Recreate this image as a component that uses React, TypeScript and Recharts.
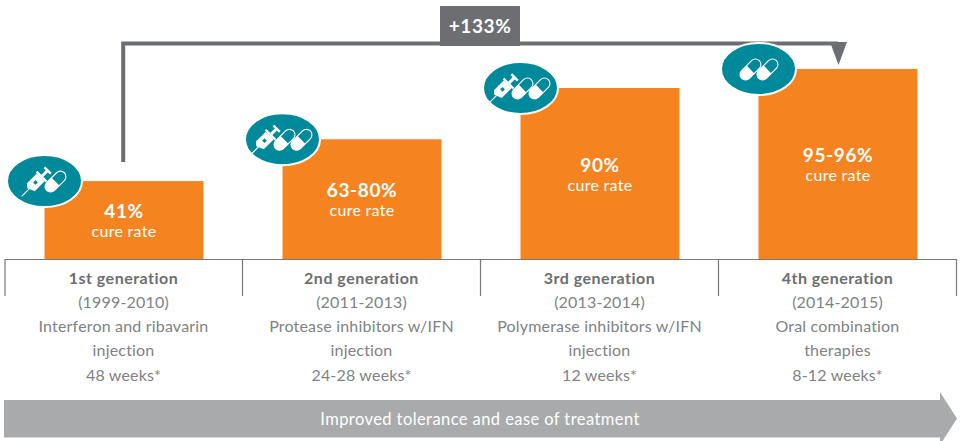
import React from 'react';
import { BarChart, Bar, XAxis, YAxis, LabelList } from 'recharts';

const generations = ['1st generation', '2nd generation', '3rd generation', '4th generation'];
const years = ['(1999-2010)', '(2011-2013)', '(2013-2014)', '(2014-2015)'];
const therapyLines = [
  ['Interferon and ribavarin', 'injection'],
  ['Protease inhibitors w/IFN', 'injection'],
  ['Polymerase inhibitors w/IFN', 'injection'],
  ['Oral combination', 'therapies'],
];
const durations = ['48 weeks*', '24-28 weeks*', '12 weeks*', '8-12 weeks*'];
// bar heights as drawn in the picture, the last one is taller than its label says
const barValues = [41, 63, 90, 100];
const cureLabels = ['41%', '63-80%', '90%', '95-96%'];
const icons = [
  ['syringe', 'pill'],
  ['syringe', 'pill', 'pill'],
  ['syringe', 'pill', 'pill'],
  ['pill', 'pill'],
];

const tableData = generations.map((name, i) => ({ name, value: barValues[i], label: cureLabels[i], idx: i }));

const FONT = 'Lato, sans-serif';
const ORANGE = '#f58420';
const TEAL = '#00889b';
const DARK = '#6d6e71';
const TEXT = '#808285';
const GREY = '#a9aaac';

function Pill({ x, y }: { x: number; y: number }) {
  return (
    <g transform={`translate(${x} ${y}) rotate(-45)`}>
      <rect x={-12.5} y={-5.5} width={25} height={11} rx={5.5} fill={TEAL} stroke="#fff" strokeWidth={1.1} />
      <path d="M0 -5.5 H-7 A5.5 5.5 0 0 0 -7 5.5 H0 Z" fill="#fff" />
    </g>
  );
}

function Syringe({ x, y }: { x: number; y: number }) {
  return (
    <g transform={`translate(${x} ${y}) rotate(-45)`} fill="#fff">
      <rect x={-21} y={-0.6} width={11} height={1.2} />
      <path d="M-11 -2 L-8 -5.5 H6 V5.5 H-8 Z" />
      <rect x={6} y={-7} width={2.2} height={14} />
      <rect x={8} y={-1.5} width={7} height={3} />
      <rect x={14.5} y={-4.5} width={2.4} height={9} />
      <rect x={-3} y={-1.8} width={3.4} height={3.4} fill={TEAL} />
    </g>
  );
}

// bar plus the badge sitting on its top left corner
function BarWithBadge(props: any) {
  const { x, y, width, height, index } = props;
  const kinds = icons[index];
  const offsets = kinds.length === 3 ? [-17, 2, 19] : index === 0 ? [-8, 11] : [-8, 9];
  return (
    <g>
      <rect x={x} y={y} width={width} height={height} fill={ORANGE} />
      <ellipse cx={x} cy={y} rx={37.5} ry={26} fill={TEAL} stroke="#fff" strokeWidth={2} />
      {kinds.map((k, i) =>
        k === 'pill' ? <Pill key={i} x={x + offsets[i]} y={y + 0.5} /> : <Syringe key={i} x={x + offsets[i]} y={y + 0.5} />
      )}
    </g>
  );
}

function CureLabel(props: any) {
  const { x, y, width, height, value } = props;
  const cx = x + width / 2;
  const cy = y + height / 2;
  return (
    <g fontFamily={FONT} textAnchor="middle" fill="#fff">
      <text x={cx} y={cy - 2} fontSize={19} fontWeight={700} letterSpacing={0.6}>{value}</text>
      <text x={cx} y={cy + 17} fontSize={16} letterSpacing={0.3}>cure rate</text>
    </g>
  );
}

function GenerationTick(props: any) {
  const { x, index } = props;
  const lines = [years[index], ...therapyLines[index], durations[index]];
  return (
    <g fontFamily={FONT} textAnchor="middle" fontSize={16} fill={TEXT}>
      <text x={x} y={284} fontWeight={700} letterSpacing={0.5} fill={DARK}>{generations[index]}</text>
      {lines.map((line, i) => (
        <text key={i} x={x} y={308 + i * 24.2} letterSpacing={0.18}>{line}</text>
      ))}
    </g>
  );
}

export default function App() {
  return (
    <div style={{ position: 'absolute', left: 0, top: 0, width: 962, height: 441, background: '#fff', overflow: 'hidden' }}>
      <BarChart
        width={962}
        height={441}
        data={tableData}
        margin={{ top: 69, right: 5.5, bottom: 0, left: 4.5 }}
        barCategoryGap={0}
      >
        <YAxis hide domain={[0, 100]} />

        {/* increase bracket, stays under the badges */}
        <path d="M123.2 162 V43.4 H838" fill="none" stroke={DARK} strokeWidth={4} />
        <path d="M830 42 H847 L838.5 65 Z" fill={DARK} />
        <rect x={440} y={6} width={80} height={40} fill={DARK} />
        <text x={480} y={33} textAnchor="middle" fontFamily={FONT} fontSize={19} fontWeight={700} letterSpacing={0.6} fill="#fff">+133%</text>

        {/* bottom arrow */}
        <path d="M4 400 H940 V392 L957 418.5 L940 445 V437.5 H4 Z" fill={GREY} />
        <text x={480} y={425} textAnchor="middle" fontFamily={FONT} fontSize={16.5} letterSpacing={0.42} fill="#fff">
          Improved tolerance and ease of treatment
        </text>

        {/* bracket below the bars */}
        <path d="M5 296 V259.5 H956.5 V296 M242.5 259.5 V296 M480.5 259.5 V296 M718.5 259.5 V296" fill="none" stroke="#77787b" strokeWidth={1.2} />

        <XAxis dataKey="name" height={182} axisLine={false} tickLine={false} interval={0} tick={<GenerationTick />} />
        <Bar dataKey="value" barSize={159} isAnimationActive={false} shape={<BarWithBadge />}>
          <LabelList dataKey="label" content={<CureLabel />} />
        </Bar>
      </BarChart>
    </div>
  );
}
